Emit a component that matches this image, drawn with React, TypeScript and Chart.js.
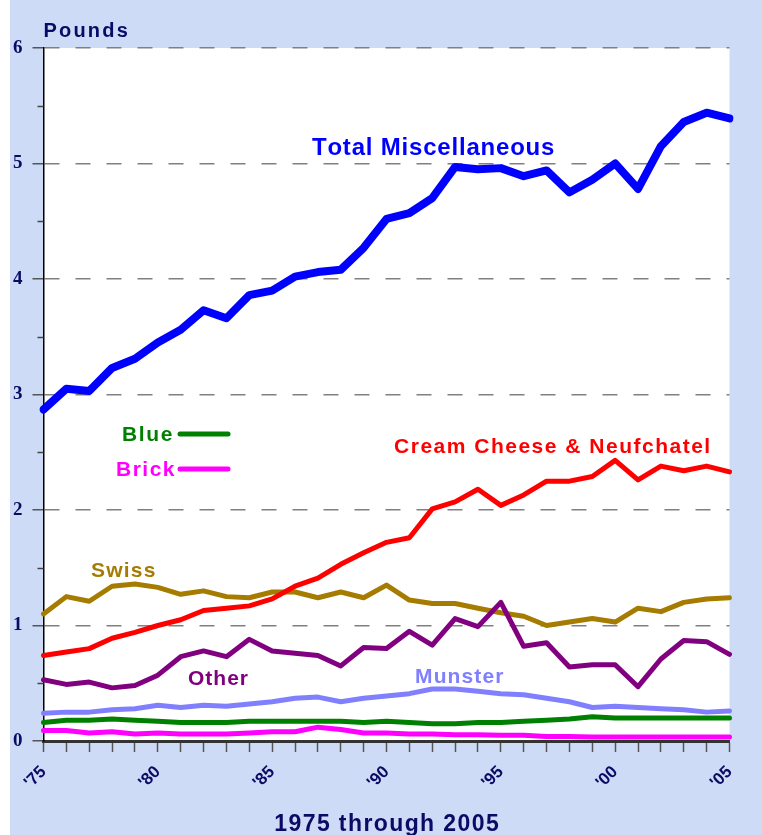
import React, { useEffect, useRef } from 'react';
import { Chart, registerables } from 'chart.js';

Chart.register(...registerables);

// ---------- data ----------
const years = [1975, 1976, 1977, 1978, 1979, 1980, 1981, 1982, 1983, 1984, 1985, 1986, 1987, 1988, 1989, 1990,
  1991, 1992, 1993, 1994, 1995, 1996, 1997, 1998, 1999, 2000, 2001, 2002, 2003, 2004, 2005];

const totalMisc = [2.87, 3.05, 3.03, 3.23, 3.31, 3.45, 3.56, 3.73, 3.66, 3.86, 3.90, 4.02, 4.06, 4.08, 4.27, 4.52,
  4.57, 4.70, 4.97, 4.95, 4.96, 4.89, 4.94, 4.75, 4.86, 5.00, 4.78, 5.15, 5.36, 5.44, 5.39];

const creamCheese = [0.74, 0.77, 0.80, 0.89, 0.94, 1.00, 1.05, 1.13, 1.15, 1.17, 1.23, 1.34, 1.41, 1.53, 1.63, 1.72,
  1.76, 2.01, 2.07, 2.18, 2.04, 2.13, 2.25, 2.25, 2.29, 2.43, 2.26, 2.38, 2.34, 2.38, 2.33];

const swiss = [1.10, 1.25, 1.21, 1.34, 1.36, 1.33, 1.27, 1.30, 1.25, 1.24, 1.29, 1.29, 1.24, 1.29, 1.24, 1.35,
  1.22, 1.19, 1.19, 1.15, 1.11, 1.08, 1.00, 1.03, 1.06, 1.03, 1.15, 1.12, 1.20, 1.23, 1.24];

const other = [0.53, 0.49, 0.51, 0.46, 0.48, 0.57, 0.73, 0.78, 0.73, 0.88, 0.78, 0.76, 0.74, 0.65, 0.81, 0.80,
  0.95, 0.83, 1.06, 0.99, 1.20, 0.82, 0.85, 0.64, 0.66, 0.66, 0.47, 0.71, 0.87, 0.86, 0.75];

const munster = [0.24, 0.25, 0.25, 0.27, 0.28, 0.31, 0.29, 0.31, 0.30, 0.32, 0.34, 0.37, 0.38, 0.34, 0.37, 0.39,
  0.41, 0.45, 0.45, 0.43, 0.41, 0.40, 0.37, 0.34, 0.29, 0.30, 0.29, 0.28, 0.27, 0.25, 0.26];

const blue = [0.16, 0.18, 0.18, 0.19, 0.18, 0.17, 0.16, 0.16, 0.16, 0.17, 0.17, 0.17, 0.17, 0.17, 0.16, 0.17,
  0.16, 0.15, 0.15, 0.16, 0.16, 0.17, 0.18, 0.19, 0.21, 0.20, 0.20, 0.20, 0.20, 0.20, 0.20];

const brick = [0.09, 0.09, 0.07, 0.08, 0.06, 0.07, 0.06, 0.06, 0.06, 0.07, 0.08, 0.08, 0.12, 0.10, 0.07, 0.07,
  0.06, 0.06, 0.055, 0.055, 0.05, 0.05, 0.04, 0.04, 0.035, 0.035, 0.035, 0.035, 0.035, 0.035, 0.035];

const yMajorTicks = [0, 1, 2, 3, 4, 5, 6];
const yMinorTicks = [0.5, 1.5, 2.5, 3.5, 4.5, 5.5];

const unitLabel = 'Pounds';
const xAxisTitle = '1975 through 2005';

// ---------- styles ----------
const NAVY = '#0b0b66';
const BG = '#cddbf6';
const SANS = '"Liberation Sans", Arial, sans-serif';
const SERIF = '"Liberation Serif", "Times New Roman", serif';

const COLORS = {
  total: '#0000ff',
  cream: '#ff0000',
  swiss: '#a67c00',
  other: '#800080',
  munster: '#8080ff',
  blue: '#008000',
  brick: '#ff00ff',
};

// series labels placed in data coordinates (x = category index, y = pounds)
const seriesLabels = [
  { text: 'Total Miscellaneous', x: 11.74, y: 5.073, size: 24, spacing: 0.8, color: COLORS.total },
  { text: 'Cream Cheese & Neufchatel', x: 15.33, y: 2.495, size: 21, spacing: 1.5, color: COLORS.cream },
  { text: 'Swiss', x: 2.08, y: 1.418, size: 21, spacing: 1.2, color: COLORS.swiss },
  { text: 'Other', x: 6.32, y: 0.482, size: 21, spacing: 1.0, color: COLORS.other },
  { text: 'Munster', x: 16.25, y: 0.50, size: 21, spacing: 1.1, color: COLORS.munster },
  { text: 'Blue', x: 3.43, y: 2.596, size: 21, spacing: 1.7, color: COLORS.blue },
  { text: 'Brick', x: 3.17, y: 2.293, size: 21, spacing: 1.5, color: COLORS.brick },
];

const keyLines = [
  { x1: 5.97, x2: 8.07, y: 2.658, color: COLORS.blue },
  { x1: 5.97, x2: 8.07, y: 2.355, color: COLORS.brick },
];

function spacedText(ctx: CanvasRenderingContext2D, text: string, x: number, y: number, spacing: number, align: 'left' | 'center' = 'left') {
  let total = 0;
  for (const ch of text) total += ctx.measureText(ch).width + spacing;
  total -= spacing;
  let cx = align === 'center' ? x - total / 2 : x;
  ctx.textAlign = 'left';
  for (const ch of text) {
    ctx.fillText(ch, cx, y);
    cx += ctx.measureText(ch).width + spacing;
  }
}

const decorPlugin = {
  id: 'decor',
  beforeDraw(chart: any) {
    const { ctx, chartArea: a, width, height } = chart;
    ctx.save();
    ctx.fillStyle = '#ffffff';
    ctx.fillRect(0, 0, width, height);
    ctx.fillStyle = BG;
    ctx.fillRect(10, 0, width - 10, height);
    ctx.fillStyle = '#ffffff';
    ctx.fillRect(a.left, a.top, a.right - a.left, a.bottom - a.top);
    ctx.restore();
  },
  afterDraw(chart: any) {
    const { ctx, chartArea: a } = chart;
    const xs = chart.scales.x;
    const ys = chart.scales.y;
    ctx.save();
    // minor y ticks
    ctx.strokeStyle = '#444';
    ctx.lineWidth = 1.5;
    for (const v of yMinorTicks) {
      const py = Math.round(ys.getPixelForValue(v)) + 0.5;
      ctx.beginPath();
      ctx.moveTo(a.left - 6, py);
      ctx.lineTo(a.left, py);
      ctx.stroke();
    }
    // key lines
    ctx.lineCap = 'round';
    ctx.lineWidth = 5;
    for (const k of keyLines) {
      ctx.strokeStyle = k.color;
      ctx.beginPath();
      ctx.moveTo(xs.getPixelForValue(k.x1), ys.getPixelForValue(k.y));
      ctx.lineTo(xs.getPixelForValue(k.x2), ys.getPixelForValue(k.y));
      ctx.stroke();
    }
    // series labels
    ctx.textBaseline = 'alphabetic';
    for (const l of seriesLabels) {
      ctx.font = `bold ${l.size}px ${SANS}`;
      ctx.fillStyle = l.color;
      spacedText(ctx, l.text, xs.getPixelForValue(l.x), ys.getPixelForValue(l.y), l.spacing);
    }
    // unit label
    ctx.font = `bold 20px ${SANS}`;
    ctx.fillStyle = NAVY;
    spacedText(ctx, unitLabel, a.left, a.top - 11, 2.2);
    // x axis title
    ctx.font = `bold 23px ${SANS}`;
    spacedText(ctx, xAxisTitle, (a.left + a.right) / 2, chart.height - 4, 1.4, 'center');
    ctx.restore();
  },
};

export default function App() {
  const ref = useRef<HTMLCanvasElement | null>(null);

  useEffect(() => {
    document.body.style.margin = '0';
    const canvas = ref.current;
    if (!canvas) return;
    const mk = (label: string, data: number[], color: string, w: number) => ({
      label,
      data,
      borderColor: color,
      backgroundColor: color,
      borderWidth: w,
      pointRadius: 0,
      tension: 0,
      fill: false,
      borderCapStyle: 'round' as const,
      borderJoinStyle: 'round' as const,
    });
    const chart = new Chart(canvas, {
      type: 'line',
      data: {
        labels: years.map(String),
        datasets: [
          mk('Total Miscellaneous', totalMisc, COLORS.total, 8),
          mk('Brick', brick, COLORS.brick, 5),
          mk('Blue', blue, COLORS.blue, 5),
          mk('Munster', munster, COLORS.munster, 5),
          mk('Cream Cheese & Neufchatel', creamCheese, COLORS.cream, 5),
          mk('Other', other, COLORS.other, 5),
          mk('Swiss', swiss, COLORS.swiss, 5),
        ],
      },
      options: {
        responsive: false,
        animation: false,
        events: [],
        layout: { padding: { left: 0, top: 48, right: 32.5, bottom: 0 } },
        plugins: { legend: { display: false }, tooltip: { enabled: false }, title: { display: false } },
        scales: {
          x: {
            type: 'category',
            offset: false,
            afterFit: (s: any) => { s.height = 94; },
            grid: {
              display: true,
              drawOnChartArea: false,
              drawTicks: true,
              tickLength: 11,
              tickColor: '#555',
              tickWidth: 1.5,
            },
            border: { display: true, color: '#333', width: 3 },
            ticks: {
              autoSkip: false,
              maxRotation: 45,
              minRotation: 45,
              padding: 10,
              color: NAVY,
              font: { family: SANS, weight: 'bold', size: 17 },
              callback: (_v: any, i: number) => (years[i] % 5 === 0 ? "'" + String(years[i]).slice(2) : ''),
            },
          },
          y: {
            min: 0,
            max: 6,
            afterFit: (s: any) => { s.width = 43.5; },
            afterBuildTicks: (s: any) => { s.ticks = yMajorTicks.map((v) => ({ value: v })); },
            grid: {
              color: '#808080',
              lineWidth: 1.5,
              drawTicks: true,
              tickLength: 11,
              tickColor: '#555',
              tickWidth: 1.5,
            },
            border: { display: true, color: '#000', width: 1.5, dash: [15, 16] },
            ticks: {
              padding: 10,
              color: NAVY,
              font: { family: SERIF, weight: 'bold', size: 19 },
            },
          },
        },
      },
      plugins: [decorPlugin],
    } as any);
    return () => chart.destroy();
  }, []);

  return (
    <div style={{ width: 762, height: 835, position: 'relative' }}>
      <canvas ref={ref} width={762} height={835} style={{ display: 'block' }} />
    </div>
  );
}
